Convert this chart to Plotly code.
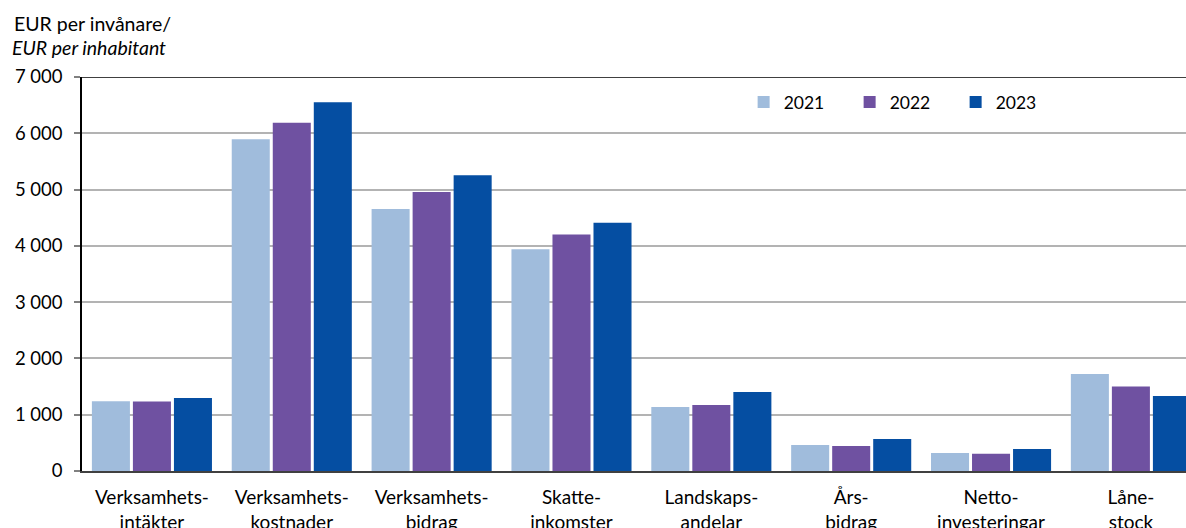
import plotly.graph_objects as go

categories = [
    "Verksamhets-<br>intäkter",
    "Verksamhets-<br>kostnader",
    "Verksamhets-<br>bidrag",
    "Skatte-<br>inkomster",
    "Landskaps-<br>andelar",
    "Års-<br>bidrag",
    "Netto-<br>investeringar",
    "Låne-<br>stock",
]
years = ["2021", "2022", "2023"]
values_2021 = [1240, 5893, 4657, 3938, 1137, 462, 320, 1723]
values_2022 = [1235, 6189, 4959, 4203, 1172, 444, 307, 1500]
values_2023 = [1297, 6552, 5256, 4409, 1403, 568, 391, 1332]
y_ticks = [0, 1000, 2000, 3000, 4000, 5000, 6000, 7000]
unit_title_sv = "EUR per invånare/"
unit_title_en = "EUR per inhabitant"

colors = ["#A0BCDC", "#6F51A1", "#054EA2"]
FONT = "Lato"

fig = go.Figure()
for name, vals, col in zip(years, [values_2021, values_2022, values_2023], colors):
    fig.add_trace(go.Bar(
        x=list(range(len(categories))), y=vals, name=name,
        marker=dict(color=col, line=dict(width=0)),
    ))

fig.update_layout(
    width=1186, height=528, autosize=False,
    margin=dict(l=82, r=0, t=77, b=57, pad=0),
    plot_bgcolor="white", paper_bgcolor="white",
    barmode="group", bargap=0.12, bargroupgap=0.073,
    separators=", ",
    font=dict(family=FONT, size=18, color="#000000"),
    legend=dict(
        orientation="h", x=0.5993, xanchor="left", y=0.9365, yanchor="middle",
        font=dict(family=FONT, size=17.5, color="#000000"),
        entrywidth=61, entrywidthmode="pixels",
        bgcolor="rgba(0,0,0,0)", itemclick=False,
    ),
    xaxis=dict(
        range=[-0.5, 7.394], automargin=False,
        tickmode="array", tickvals=list(range(len(categories))), ticktext=categories,
        showline=True, linecolor="#404040", linewidth=2,
        showgrid=False, ticks="", zeroline=False,
        tickfont=dict(family=FONT, size=19, color="#000000"),
        ticklabelstandoff=8,
    ),
    yaxis=dict(
        range=[0, 7000], tickmode="array", tickvals=y_ticks, automargin=False,
        tickformat=",d",
        showline=True, linecolor="#000000", linewidth=1.5,
        showgrid=True, gridcolor="#B3B3B3", gridwidth=1.5,
        ticks="outside", ticklen=6, tickcolor="#808080", tickwidth=1.5,
        zeroline=False,
        tickfont=dict(family=FONT, size=18.5, color="#000000"),
        ticklabelstandoff=8,
    ),
    shapes=[dict(type="line", xref="paper", yref="y", x0=0, x1=1, y0=7000, y1=7000,
                 line=dict(color="#000000", width=1.5), layer="above")],
    annotations=[
        dict(xref="paper", yref="paper", x=-0.0634, y=1.0, yshift=54,
             xanchor="left", yanchor="middle", text=unit_title_sv, showarrow=False,
             font=dict(family=FONT, size=19.5, color="#000000")),
        dict(xref="paper", yref="paper", x=-0.0652, y=1.0, yshift=30,
             xanchor="left", yanchor="middle", text="<i>" + unit_title_en + "</i>", showarrow=False,
             font=dict(family=FONT, size=19.5, color="#000000")),
    ],
)

fig.write_html(
    "out.html",
    config={"responsive": False, "displayModeBar": False},
    post_script=(
        "document.documentElement.style.overflow='hidden';"
        "document.documentElement.style.scrollbarWidth='none';"
        "document.body.style.margin='0';document.body.style.overflow='hidden';"
    ),
)
